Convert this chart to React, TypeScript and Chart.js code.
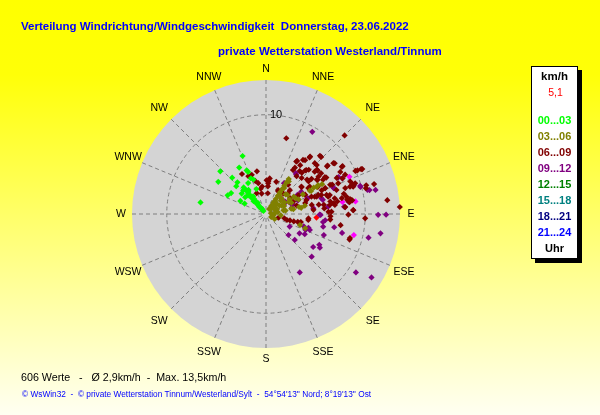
import { useEffect, useRef } from 'react';
import { Chart, registerables } from 'chart.js';

Chart.register(...registerables);

// ---------- data ----------
const COMPASS = ['N', 'NNE', 'NE', 'ENE', 'E', 'ESE', 'SE', 'SSE', 'S', 'SSW', 'SW', 'WSW', 'W', 'WNW', 'NW', 'NNW'];
const RING_VALUES = [10];
const MAX_SPEED = 13.5;

const LEGEND_RANGES = ['00...03', '03...06', '06...09', '09...12', '12...15', '15...18', '18...21', '21...24'];
const LEGEND_COLORS = ['#00ff00', '#808000', '#800000', '#800080', '#008000', '#008080', '#000080', '#0000ff'];
const CURRENT_LABEL = '5,1';

const TITLE_1 = 'Verteilung Windrichtung/Windgeschwindigkeit  Donnerstag, 23.06.2022';
const TITLE_2 = 'private Wetterstation Westerland/Tinnum';
const FOOTER_1 = '606 Werte   -   Ø 2,9km/h  -  Max. 13,5km/h';
const FOOTER_2 = "© WsWin32  -  © private Wetterstation Tinnum/Westerland/Sylt  -  54°54'13'' Nord; 8°19'13'' Ost";

// 00...03 Uhr (direction in degrees, speed in km/h)
const dir0003 = [338, 330, 336, 313, 317, 304, 318, 313, 330, 301, 296, 280, 297, 296, 337, 337,
  320, 320, 320, 320, 320, 320, 320, 320, 320, 316, 316, 316, 316, 324, 324, 324, 309, 340, 339, 310,
  322, 322, 322, 318, 318, 318];
const spd0003 = [6.3, 5.4, 4.8, 6.3, 5.0, 5.8, 4.3, 4.1, 3.6, 4.1, 4.3, 6.7, 2.9, 2.4, 4.6, 3.9,
  0.4, 0.8, 1.2, 1.6, 2.0, 2.4, 2.8, 3.2, 3.5, 1.0, 1.8, 2.6, 3.3, 1.4, 2.2, 3.0, 2.7, 3.7, 2.7, 3.2,
  0.7, 1.9, 2.9, 0.6, 1.4, 2.2];

// 03...06 Uhr
const dir0306 = [33, 33, 33, 33, 33, 33, 33, 33, 33, 33, 45, 45, 45, 45, 58, 58, 58, 58, 58,
  66, 66, 66, 66, 78, 78, 78, 78, 78, 61, 61, 63, 108, 110, 95, 95, 120, 120,
  62, 62, 62, 62, 62, 62, 62, 62, 80, 80, 80, 80, 80, 35, 35, 35, 35, 35, 48, 48, 48];
const spd0306 = [0.6, 1.0, 1.4, 1.8, 2.2, 2.6, 3.0, 3.4, 3.8, 4.2, 0.8, 1.5, 2.2, 2.8, 1.0, 1.6, 2.2, 2.8, 3.3,
  1.2, 2.0, 2.8, 3.6, 1.0, 1.8, 2.6, 3.4, 4.0, 5.5, 6.0, 5.1, 3.6, 4.2, 0.8, 1.5, 0.6, 1.0,
  1.0, 1.8, 2.6, 3.4, 4.2, 5.0, 5.8, 6.4, 0.5, 1.2, 2.0, 2.8, 3.6, 0.8, 1.6, 2.4, 3.2, 4.0, 1.2, 2.0, 2.9];

// 06...09 Uhr
const dir0609 = [15, 348, 340, 4, 346, 348, 30, 36, 37.5, 44, 52, 53, 45, 65, 64.5, 83.5, 87, 92.5, 98.5, 107,
  96, 92, 103, 105, 105, 104, 103, 35, 42, 49, 56, 58, 63, 58, 67, 73.5, 71, 71, 81, 81, 88,
  45, 40, 27, 45, 53, 50, 46, 65, 72, 81, 80, 58, 71, 71, 74, 74.5, 75.5, 75.5, 78, 80, 82, 87.5,
  32, 41, 44, 49, 54.5, 52.5, 59, 66.5, 66, 67, 4, 5, 71, 70.5, 74.5, 80, 80, 82, 107, 106, 98, 88, 95,
  106, 85, 47, 60, 85, 329, 335, 342, 1, 4, 4, 336, 348, 352,
  42.8, 37.6, 34.4, 30.4, 43.8, 51.8, 53.6, 58.1, 31.5, 38.1, 42.5, 50, 53.6, 60.5, 64.3, 64.7,
  39, 44.7, 52.3, 56.5, 58.9, 63.6, 68.9, 72.6, 37.2, 52.3, 58.5, 62.3, 66.4, 65.5, 71.2, 71.9,
  63.8, 69.1, 69.9, 72.5, 77.1, 78.2, 80.7, 74.5, 78.8, 84.5, 79, 82.5, 87.4, 74.7, 56.5, 28.3, 6, 17.7, 65.5, 90.5];
const spd0609 = [7.9, 4.4, 4.2, 3.4, 3.2, 2.6, 6.1, 6.7, 7.3, 8.0, 7.8, 8.5, 11.2, 10.7, 10.2, 12.3, 13.5, 10.0, 7.6, 8.8,
  4.3, 6.5, 1.9, 2.5, 2.9, 3.3, 3.6, 6.0, 5.9, 6.5, 6.2, 7.0, 8.0, 5.2, 6.1, 6.7, 5.4, 4.3, 5.9, 6.9, 6.3,
  3.4, 2.7, 2.7, 2.2, 4.5, 5.4, 7.1, 8.5, 8.9, 8.8, 8.3, 9.1, 9.2, 9.5, 10.5, 11.3, 10.4, 8.1, 8.3, 8.6, 8.5, 8.8,
  5.5, 5.5, 6.2, 6.8, 6.5, 5.4, 6.7, 6.5, 7.3, 7.9, 3.3, 2.1, 5.9, 5.2, 6.5, 7.3, 5.4, 6.5, 1.3, 2.2, 4.3, 6.6, 6.5,
  8.8, 8.0, 3.0, 3.8, 4.8, 4.7, 4.2, 3.5, 3.4, 3.1, 2.8, 2.3, 2.1, 2.8,
  8.0, 7.2, 6.6, 6.2, 7.1, 7.9, 8.6, 9.0, 5.2, 5.5, 6.0, 6.8, 6.9, 8.6, 10.0, 10.6,
  4.9, 5.1, 5.8, 6.2, 7.1, 8.9, 9.1, 9.2, 3.7, 4.5, 5.0, 5.9, 6.5, 7.1, 7.5, 8.4,
  4.4, 4.9, 5.6, 6.4, 7.1, 7.8, 8.7, 4.1, 4.7, 5.9, 6.6, 7.0, 8.8, 3.2, 2.9, 2.6, 3.6, 3.4, 3.0, 8.3];

// 09...12 Uhr
const dir0912 = [76, 83, 91, 96, 118, 133, 132, 120, 117.5, 110, 102.5, 110, 104, 125, 120, 122, 133, 150,
  123, 121, 103, 99.6, 90.4, 90.3, 29.4, 36, 57, 66, 69, 76, 69, 63, 71.6, 74, 76.6, 81.5,
  108, 108, 112, 65, 72, 77, 77.6, 85, 98, 101, 31, 67,
  30.4, 37.4, 63.2, 72, 73.4, 68.6, 57.7, 58.7, 74.2, 83.3, 84.7, 90.7, 70, 60];
const spd0912 = [2.7, 4.8, 5.5, 6.0, 2.7, 3.1, 3.9, 3.9, 4.4, 4.7, 5.9, 6.2, 7.9, 5.8, 6.2, 6.4, 6.3, 6.8,
  10.8, 12.4, 10.6, 11.7, 11.3, 12.1, 9.5, 5.1, 2.3, 2.7, 4.5, 5.9, 7.3, 8.2, 9.3, 9.9, 10.5, 8.4,
  4.0, 4.5, 4.3, 8.5, 9.3, 10.7, 11.3, 8.0, 5.8, 7.0, 3.6, 3.5,
  3.6, 5.0, 8.1, 9.2, 9.9, 7.3, 4.2, 3.7, 5.8, 6.3, 7.9, 5.4, 2.9, 2.2];

// highlighted values (magenta)
const dirHighlight = [66, 81, 82, 70, 103.5];
const spdHighlight = [9.2, 7.8, 9.1, 4.4, 9.1];

// current value
const dirCurrent = [94];
const spdCurrent = [5.1];

// ---------- helpers ----------
const rad = (d: number) => (d * Math.PI) / 180;
const toXY = (dirs: number[], spds: number[]) =>
  dirs.map((d, i) => ({ x: spds[i] * Math.sin(rad(d)), y: spds[i] * Math.cos(rad(d)) }));

const FONT = '"Liberation Sans", Arial, sans-serif';

const backgroundPlugin = {
  id: 'bg',
  beforeDraw(chart: any) {
    const { ctx, width, height } = chart;
    ctx.save();
    const g = ctx.createLinearGradient(0, 0, 0, height);
    g.addColorStop(0, '#ffff00');
    g.addColorStop(0.18, '#ffff08');
    g.addColorStop(1, '#fffff2');
    ctx.fillStyle = g;
    ctx.fillRect(0, 0, width, height);
    ctx.restore();
  },
};

const polarGridPlugin = {
  id: 'polarGrid',
  beforeDatasetsDraw(chart: any) {
    const { ctx } = chart;
    const xs = chart.scales.x;
    const ys = chart.scales.y;
    const cx = xs.getPixelForValue(0);
    const cy = ys.getPixelForValue(0);
    const R = xs.getPixelForValue(MAX_SPEED) - cx;
    ctx.save();
    ctx.fillStyle = '#d4d4d4';
    ctx.beginPath();
    ctx.arc(cx, cy, R, 0, Math.PI * 2);
    ctx.fill();

    ctx.strokeStyle = '#7f7f7f';
    ctx.lineWidth = 1;
    ctx.setLineDash([4, 3]);
    COMPASS.forEach((_, i) => {
      const a = rad(i * 22.5);
      ctx.beginPath();
      ctx.moveTo(cx + 4 * Math.sin(a), cy - 4 * Math.cos(a));
      ctx.lineTo(cx + R * Math.sin(a), cy - R * Math.cos(a));
      ctx.stroke();
    });
    RING_VALUES.forEach((v) => {
      const r = xs.getPixelForValue(v) - cx;
      ctx.beginPath();
      ctx.arc(cx, cy, r, 0, Math.PI * 2);
      ctx.stroke();
    });
    ctx.setLineDash([]);

    ctx.fillStyle = '#000000';
    ctx.textAlign = 'center';
    ctx.textBaseline = 'middle';
    ctx.font = `11px ${FONT}`;
    RING_VALUES.forEach((v) => {
      const r = xs.getPixelForValue(v) - cx;
      ctx.fillText(String(v), cx + 10, cy - r);
    });

    ctx.font = `10.5px ${FONT}`;
    COMPASS.forEach((lab, i) => {
      const a = rad(i * 22.5);
      const rr = R + 11 + 6 * Math.abs(Math.sin(2 * a));
      ctx.fillText(lab, cx + rr * Math.sin(a), cy - rr * Math.cos(a) + 0.5);
    });
    ctx.restore();
  },
};

const textPlugin = {
  id: 'texts',
  afterDraw(chart: any) {
    const { ctx } = chart;
    ctx.save();
    ctx.textBaseline = 'alphabetic';
    ctx.textAlign = 'left';
    ctx.fillStyle = '#0000ff';
    ctx.font = `bold 11.5px ${FONT}`;
    ctx.fillText(TITLE_1, 21, 29.5);
    ctx.fillText(TITLE_2, 218, 54.5);

    ctx.fillStyle = '#000000';
    ctx.font = `10.7px ${FONT}`;
    ctx.fillText(FOOTER_1, 21, 380.5);
    ctx.fillStyle = '#0000ff';
    ctx.font = `8.3px ${FONT}`;
    ctx.fillText(FOOTER_2, 22, 396.5);

    // legend box
    const bx = 531, by = 66, bw = 47, bh = 193;
    ctx.fillStyle = '#000000';
    ctx.fillRect(bx + 4, by + 4, bw, bh);
    ctx.fillStyle = '#ffffff';
    ctx.fillRect(bx, by, bw, bh);
    ctx.strokeStyle = '#000000';
    ctx.lineWidth = 1;
    ctx.strokeRect(bx + 0.5, by + 0.5, bw - 1, bh - 1);

    const mx = bx + bw / 2;
    ctx.textAlign = 'center';
    ctx.fillStyle = '#000000';
    ctx.font = `bold 11.5px ${FONT}`;
    ctx.fillText('km/h', mx, 79.5);
    ctx.fillStyle = '#ff0000';
    ctx.font = `10.5px ${FONT}`;
    ctx.fillText(CURRENT_LABEL, mx + 1, 96);
    ctx.font = `bold 11px ${FONT}`;
    LEGEND_RANGES.forEach((t, i) => {
      ctx.fillStyle = LEGEND_COLORS[i];
      ctx.fillText(t, mx, 123.5 + i * 16);
    });
    ctx.fillStyle = '#000000';
    ctx.fillText('Uhr', mx, 251.5);
    ctx.restore();
  },
};

export default function App() {
  const ref = useRef<HTMLCanvasElement | null>(null);

  useEffect(() => {
    if (!ref.current) return;
    const mk = (label: string, dirs: number[], spds: number[], color: string) => ({
      label,
      data: toXY(dirs, spds),
      backgroundColor: color,
      borderColor: color,
      pointStyle: 'rectRot',
      pointRadius: 3.1,
      borderWidth: 0,
      clip: false,
    });
    const chart = new Chart(ref.current, {
      type: 'scatter',
      data: {
        datasets: [
          mk('00...03', dir0003, spd0003, LEGEND_COLORS[0]),
          mk('03...06', dir0306, spd0306, LEGEND_COLORS[1]),
          mk('06...09', dir0609, spd0609, LEGEND_COLORS[2]),
          mk('09...12', dir0912, spd0912, LEGEND_COLORS[3]),
          mk('highlight', dirHighlight, spdHighlight, '#ff00ff'),
          mk('aktuell', dirCurrent, spdCurrent, '#ff0000'),
        ] as any,
      },
      options: {
        animation: false,
        responsive: false,
        maintainAspectRatio: false,
        layout: { padding: { left: 132, right: 200, top: 80, bottom: 67 } },
        scales: {
          x: { type: 'linear', min: -MAX_SPEED, max: MAX_SPEED, display: false },
          y: { type: 'linear', min: -MAX_SPEED, max: MAX_SPEED, display: false },
        },
        plugins: { legend: { display: false }, tooltip: { enabled: false }, title: { display: false } },
        events: [],
      } as any,
      plugins: [backgroundPlugin, polarGridPlugin, textPlugin],
    });
    return () => chart.destroy();
  }, []);

  return (
    <div style={{ position: 'absolute', left: 0, top: 0, width: 600, height: 415 }}>
      <canvas ref={ref} width={600} height={415} style={{ display: 'block', width: 600, height: 415 }} />
    </div>
  );
}
